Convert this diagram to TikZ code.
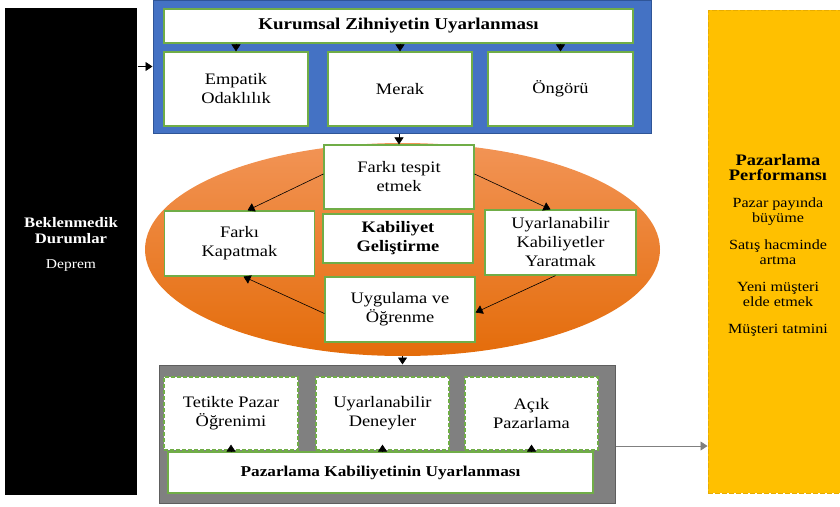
\documentclass[tikz,border=0pt]{standalone}
\usepackage{fontspec}
\setmainfont[FakeStretch=1.15]{Liberation Serif}
\usetikzlibrary{arrows.meta,positioning,shapes.geometric,calc}
\definecolor{kzblue}{HTML}{4472C4}
\definecolor{kzblueline}{HTML}{2F5597}
\definecolor{grnline}{HTML}{70AD47}
\definecolor{ortop}{HTML}{F29456}
\definecolor{orbot}{HTML}{E46C0A}
\definecolor{pkgrey}{HTML}{808080}
\definecolor{pkgreyline}{HTML}{5E5E5E}
\definecolor{ppyellow}{HTML}{FFC000}
\definecolor{ppline}{HTML}{E8AC00}
\tikzset{
  box/.style    = {rectangle, draw=grnline, fill=white, line width=1.2pt,
                   align=center, inner sep=2pt,
                   font=\fontsize{16}{19}\selectfont},
  rowbox/.style = {box, minimum width=144pt, minimum height=74pt},
  elbox/.style  = {box, minimum width=150pt, minimum height=65pt},
  dbox/.style   = {box, dashed, dash pattern=on 4pt off 2pt,
                   minimum width=133pt, minimum height=73pt},
  titlebox/.style = {box, font=\fontsize{15}{18}\selectfont\bfseries},
  frame/.style  = {rectangle, line width=1pt, inner sep=0pt},
  ar/.style     = {-{Triangle[length=7pt,width=9pt]}, draw=black, line width=0.6pt},
  arg/.style    = {ar, draw=pkgrey}
}
\begin{document}
\begin{tikzpicture}[x=1pt,y=1pt]
  \useasboundingbox (0,0) rectangle (840,-506);
  % side blocks
  \node[frame, fill=black, minimum width=132pt, minimum height=487pt] (bd) at (71,-251.5) {};
  \node[text=white, align=center, font=\fontsize{13.5}{16}\selectfont] (bdtext) at ([yshift=7pt]bd.center)
    {\textbf{\fontsize{14.5}{16}\selectfont Beklenmedik}\\ \textbf{\fontsize{14.5}{16}\selectfont Durumlar}\\[9pt] Deprem};
  \node[frame, fill=ppyellow, draw=ppline, dashed, dash pattern=on 5pt off 2pt,
        minimum width=134pt, minimum height=483pt] (pp) at (775,-251.5) {};
  \node[align=center, font=\fontsize{14}{15.5}\selectfont] (pptext) at (778,-245)
    {\textbf{\fontsize{16}{18}\selectfont Pazarlama}\\ \textbf{\fontsize{16}{18}\selectfont Performansı}\\[11pt]
     Pazar payında\\ büyüme\\[11pt] Satış hacminde\\ artma\\[11pt] Yeni müşteri\\ elde etmek\\[11pt]
     Müşteri tatmini};
  % top block
  \node[frame, fill=kzblue, draw=kzblueline, minimum width=498pt, minimum height=133pt] (kzframe) at (402,-66.5) {};
  \node[titlebox, font=\fontsize{16.5}{18}\selectfont\bfseries, minimum width=469pt, minimum height=34pt] (kzu) at (398.5,-26) {Kurumsal Zihniyetin Uyarlanması};
  \node[rowbox] (emp) at (236,-89) {Empatik\\ Odaklılık};
  \node[rowbox] (mer) at (400,-89) {Merak};
  \node[rowbox, minimum width=145pt] (ong) at (560.5,-89) {Öngörü};
  % middle block
  \node[ellipse, top color=ortop, bottom color=orbot, minimum width=515pt, minimum height=213pt] (elps) at (402.5,-249.5) {};
  \node[elbox, minimum height=64pt] (ft) at (399,-177) {Farkı tespit\\ etmek};
  \node[titlebox, font=\fontsize{16}{19}\selectfont\bfseries, minimum width=150pt, minimum height=49pt] (kg) at (398,-238.5) {Kabiliyet\\ Geliştirme};
  \node[elbox] (fk) at (239.5,-243.5) {Farkı\\ Kapatmak};
  \node[elbox, minimum width=151pt] (uk) at (560.5,-242.5) {Uyarlanabilir\\ Kabiliyetler\\ Yaratmak};
  \node[elbox] (uyg) at (400,-309.5) {Uygulama ve\\ Öğrenme};
  % bottom block
  \node[frame, fill=pkgrey, draw=pkgreyline, minimum width=456pt, minimum height=138pt] (pkframe) at (387,-434) {};
  \node[dbox, minimum width=134pt] (tpo) at (231,-413.5) {Tetikte Pazar\\ Öğrenimi};
  \node[dbox] (ud) at (382.5,-413.5) {Uyarlanabilir\\ Deneyler};
  \node[dbox] (ap) at (531.5,-413.5) {Açık\\ Pazarlama};
  \node[titlebox, minimum width=425pt, minimum height=41pt] (pku) at (380.5,-472.5) {Pazarlama Kabiliyetinin Uyarlanması};
  % arrows
  \draw[ar] (bd.east |- kzframe.west) -- (kzframe.west);
  \draw[ar] (kzu.south -| emp) -- (emp.north);
  \draw[ar] (kzu.south -| mer) -- (mer.north);
  \draw[ar] (kzu.south -| ong) -- (ong.north);
  \draw[ar] (kzframe.south -| ft) -- (ft.north);
  \draw[ar] ([yshift=3pt]ft.west) -- ([xshift=8pt]fk.north);
  \draw[ar] ([yshift=3pt]ft.east) -- ([xshift=-10pt]uk.north);
  \draw[ar] ([xshift=-5pt]uk.south) -- ([yshift=-3pt]uyg.east);
  \draw[ar] ([yshift=-4pt]uyg.west) -- ([xshift=4pt]fk.south);
  \draw[ar] (elps.south) -- (elps.south |- pkframe.north);
  \draw[ar] ([yshift=-1pt]pku.north -| tpo) -- ([yshift=6pt]tpo.south);
  \draw[ar] ([yshift=-1pt]pku.north -| ud) -- ([yshift=6pt]ud.south);
  \draw[ar] ([yshift=-1pt]pku.north -| ap) -- ([yshift=6pt]ap.south);
  \draw[arg] ([yshift=-12pt]pkframe.east) coordinate (g) -- (g -| pp.west);
\end{tikzpicture}
\end{document}
